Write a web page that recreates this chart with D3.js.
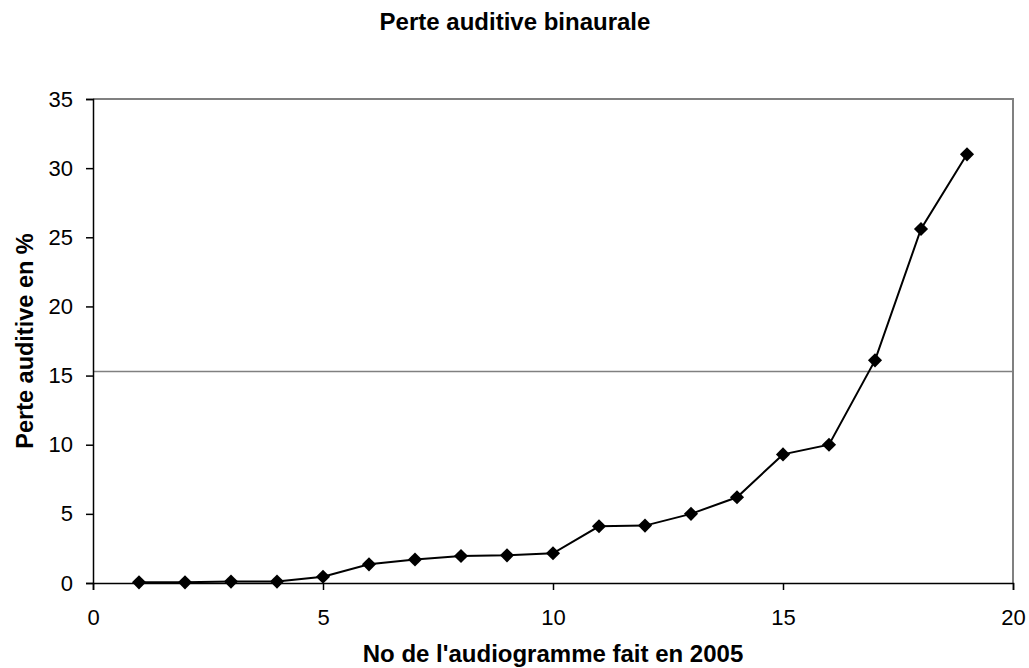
<!DOCTYPE html>
<html>
<head>
<meta charset="utf-8">
<script src="https://cdn.jsdelivr.net/npm/d3@7"></script>
<style>
  body { margin: 0; background: #fff; }
  text { font-family: "Liberation Sans", Arial, sans-serif; }
  .tick text { font-size: 22px; fill: #000; }
</style>
</head>
<body>
<div id="d3-container"></div>
<script>
// DATA
const audiogrammes = [1, 2, 3, 4, 5, 6, 7, 8, 9, 10, 11, 12, 13, 14, 15, 16, 17, 18, 19];
const perte = [0.05, 0.05, 0.1, 0.1, 0.45, 1.35, 1.7, 1.95, 2.0, 2.15, 4.1, 4.15, 5.0, 6.2, 9.3, 10.0, 16.1, 25.6, 31.0];
const seuil = 15.3;
const xTicks = [0, 5, 10, 15, 20];
const yTicks = [0, 5, 10, 15, 20, 25, 30, 35];

const width = 1029, height = 668,
  margin = { top: 99, right: 16, bottom: 85, left: 93 };

const data = audiogrammes.map((n, i) => ({ n: n, v: perte[i] }));

const svg = d3.select("#d3-container")
  .append("svg")
  .attr("width", width)
  .attr("height", height);

const xScale = d3.scaleLinear()
  .domain([0, 20])
  .range([margin.left, width - margin.right]);

const yScale = d3.scaleLinear()
  .domain([0, 35])
  .range([height - margin.bottom, margin.top]);

// frame (top + right in gray)
svg.append("path")
  .attr("d", `M${xScale(0)},${yScale(35)}H${xScale(20)}V${yScale(0)}`)
  .attr("fill", "none")
  .attr("stroke", "#808080")
  .attr("stroke-width", 2);

// threshold line
svg.append("line")
  .attr("x1", xScale(0)).attr("x2", xScale(20))
  .attr("y1", yScale(seuil)).attr("y2", yScale(seuil))
  .attr("stroke", "#808080")
  .attr("stroke-width", 1.5);

// AXES
const xAxis = d3.axisBottom(xScale).tickValues(xTicks).tickSizeOuter(0).tickSize(7).tickPadding(19);
const yAxis = d3.axisLeft(yScale).tickValues(yTicks).tickSizeOuter(0).tickSize(7).tickPadding(13);

svg.append("g")
  .attr("transform", `translate(0,${yScale(0)})`)
  .call(xAxis)
  .call(g => g.selectAll("path, line").attr("stroke", "#000").attr("stroke-width", 1.5));

svg.append("g")
  .attr("transform", `translate(${xScale(0)},0)`)
  .call(yAxis)
  .call(g => g.selectAll("path, line").attr("stroke", "#000").attr("stroke-width", 1.5));

// line + markers
const line = d3.line()
  .x(d => xScale(d.n))
  .y(d => yScale(d.v));

svg.append("path")
  .datum(data)
  .attr("d", line)
  .attr("fill", "none")
  .attr("stroke", "#000")
  .attr("stroke-width", 2);

svg.selectAll(".dot")
  .data(data)
  .join("path")
  .attr("class", "dot")
  .attr("d", d3.symbol(d3.symbolSquare, 100))
  .attr("transform", d => `translate(${xScale(d.n)},${yScale(d.v)}) rotate(45)`)
  .attr("fill", "#000");

// titles
svg.append("text")
  .attr("x", 515).attr("y", 30)
  .attr("text-anchor", "middle")
  .attr("font-size", 24)
  .attr("font-weight", "bold")
  .text("Perte auditive binaurale");

svg.append("text")
  .attr("x", xScale(10)).attr("y", 662)
  .attr("text-anchor", "middle")
  .attr("font-size", 24)
  .attr("font-weight", "bold")
  .text("No de l'audiogramme fait en 2005");

svg.append("text")
  .attr("transform", `translate(33,${yScale(17.5)}) rotate(-90)`)
  .attr("text-anchor", "middle")
  .attr("font-size", 23.5)
  .attr("font-weight", "bold")
  .text("Perte auditive en %");
</script>
</body>
</html>
